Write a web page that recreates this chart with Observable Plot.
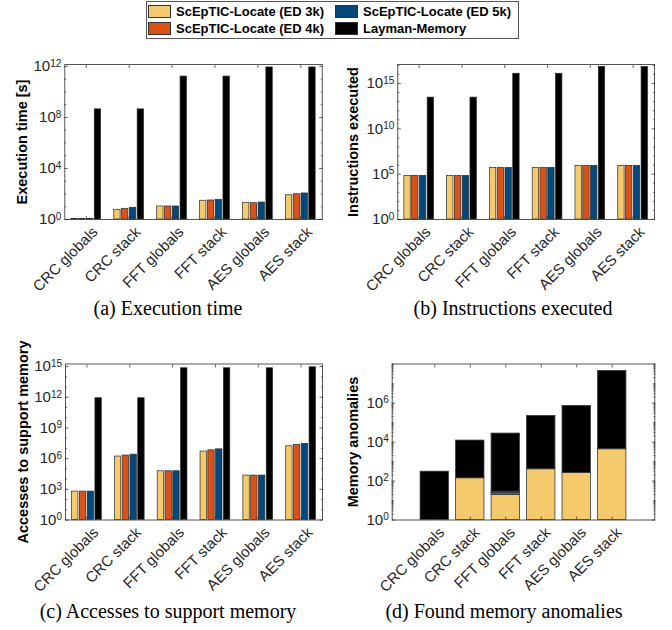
<!DOCTYPE html>
<html><head><meta charset="utf-8">
<script src="https://cdn.jsdelivr.net/npm/d3@7"></script>
<script src="https://cdn.jsdelivr.net/npm/@observablehq/plot@0.6"></script>
<style>
body{margin:0;background:#fff;}
#root{position:relative;width:672px;height:630px;overflow:hidden;font-family:"Liberation Sans",Arial,sans-serif;background:#fff;}
.panel{position:absolute;}
.cap{position:absolute;font-family:"Liberation Serif","Times New Roman",serif;font-size:20px;line-height:20px;color:#000;white-space:nowrap;transform:translateX(-50%);}
#legend{position:absolute;left:146px;top:1px;width:373px;height:38px;border:1px solid #555;box-sizing:border-box;background:#fff;}
.item{position:absolute;display:flex;align-items:center;height:14px;font-weight:bold;font-size:13px;color:#000;white-space:nowrap;}
.sw{width:23px;height:13px;border:1px solid #333;box-sizing:border-box;margin-right:5px;}
</style></head>
<body><div id="root"><div id="legend"></div></div>
<script>
// ---------- data ----------
const categories = ["CRC globals", "CRC stack", "FFT globals", "FFT stack", "AES globals", "AES stack"];
const seriesNames = ["ScEpTIC-Locate (ED 3k)", "ScEpTIC-Locate (ED 4k)", "ScEpTIC-Locate (ED 5k)", "Layman-Memory"];
const seriesColors = ["#F5CA6D", "#D95319", "#05497C", "#000000"];

// (a) Execution time [s]
const execED3k = [1.1, 5.8, 10.5, 29.5, 20.4, 79];
const execED4k = [1.1, 6.9, 10.5, 31, 19, 95];
const execED5k = [1.1, 8.3, 10.5, 35, 21.4, 110];
const execLayman = [4.3e8, 4.3e8, 1.6e11, 1.6e11, 8.3e11, 8.3e11];

// (b) Instructions executed
const instrED3k = [6.5e4, 6.5e4, 4.9e5, 4.9e5, 8.1e5, 8.1e5];
const instrED4k = [6.5e4, 6.5e4, 4.9e5, 4.9e5, 8.1e5, 8.1e5];
const instrED5k = [6.5e4, 6.5e4, 4.9e5, 4.9e5, 8.1e5, 8.1e5];
const instrLayman = [2.8e13, 2.8e13, 1.2e16, 1.2e16, 6.8e16, 6.8e16];

// (c) Accesses to support memory
const accED3k = [600, 1.6e6, 5.8e4, 4.9e6, 2.2e4, 1.6e7];
const accED4k = [600, 2.0e6, 5.8e4, 6.5e6, 2.2e4, 2.2e7];
const accED5k = [600, 2.45e6, 5.8e4, 8.1e6, 2.2e4, 2.75e7];
const accLayman = [8e11, 8e11, 6.8e14, 6.8e14, 6.8e14, 8.5e14];

// (d) Found memory anomalies (stacked)
const anomED3k = [0, 138, 19.4, 400, 260, 4250];
const anomED4k = [0, 0, 4, 0, 0, 0];
const anomED5k = [0, 0, 5, 0, 0, 0];
const anomLayman = [300, 11700, 27000, 218000, 710000, 44000000];

// tick labels
const ticksA = [1, 1e4, 1e8, 1e12];
const ticksB = [1, 1e5, 1e10, 1e15];
const ticksC = [1, 1e3, 1e6, 1e9, 1e12, 1e15];
const ticksD = [1, 1e2, 1e4, 1e6];
const xTicks = [1, 2, 3, 4, 5, 6];

// ---------- helpers ----------
const fmtPow = d => "10^" + Math.round(Math.log10(d));
const decades = (hi) => d3.range(0, Math.floor(hi) + 1).map(k => Math.pow(10, k));
const tickColor = "#262626";

function supscript(svg) {
  svg.querySelectorAll('g[aria-label="y-axis tick label"] text').forEach(t => {
    const s = t.textContent;
    if (!s.includes("^")) return;
    const [b, e] = s.split("^");
    t.textContent = b;
    const ts = document.createElementNS("http://www.w3.org/2000/svg", "tspan");
    ts.setAttribute("dy", "-4.5px");
    ts.setAttribute("font-size", "10px");
    ts.textContent = e;
    t.appendChild(ts);
  });
}

function axesMarks({major, minor, label, labelDx, xdx}) {
  return [
    Plot.frame({stroke: "#444", strokeWidth: 0.9}),
    Plot.axisY(major, {anchor: "left", tickSize: 0, tickPadding: 3.5, tickFormat: fmtPow, label: null, fill: tickColor}),
    Plot.axisY(major, {anchor: "left", tickSize: 3.5, dx: 3.5, fill: "none", label: null, stroke: tickColor, strokeWidth: 0.7}),
    Plot.axisY(major, {anchor: "right", tickSize: 3.5, dx: -3.5, fill: "none", label: null, stroke: tickColor, strokeWidth: 0.7}),
    Plot.axisY(minor, {anchor: "left", tickSize: 2, dx: 2, fill: "none", label: null, stroke: tickColor, strokeWidth: 0.6}),
    Plot.axisY(minor, {anchor: "right", tickSize: 2, dx: -2, fill: "none", label: null, stroke: tickColor, strokeWidth: 0.6}),
    Plot.axisX(xTicks, {anchor: "bottom", tickSize: 0, tickPadding: 10, dx: xdx, tickRotate: -45, tickFormat: i => categories[i - 1], label: null, fill: tickColor}),
    Plot.axisX(xTicks, {anchor: "bottom", tickSize: 3, dy: -3, fill: "none", label: null, stroke: tickColor, strokeWidth: 0.7}),
    Plot.axisX(xTicks, {anchor: "top", tickSize: 3, dy: 3, fill: "none", label: null, stroke: tickColor, strokeWidth: 0.7}),
    Plot.text([label], {frameAnchor: "left", text: d => d, rotate: -90, textAnchor: "middle", dx: labelDx, fontWeight: "bold", fontSize: 14.5, fill: "#000"})
  ];
}

const baseStyle = {fontFamily: "Liberation Sans, Arial, Helvetica, sans-serif", fontSize: "15px", color: tickColor, background: "transparent", overflow: "visible"};

function grouped({series, yDomain, major, label, labelDx, m}) {
  const rows = [];
  series.forEach((arr, si) => arr.forEach((v, gi) => rows.push({cat: categories[gi], series: seriesNames[si], gi: gi + 1, si, v})));
  const groupWidth = Math.min(0.8, 4 / 5.5), step = groupWidth / 4, bw = step * 0.82;
  const hi = Math.log10(yDomain[1]);
  const minor = decades(hi).filter(d => !major.includes(d));
  const svg = Plot.plot({
    width: 336, height: 260,
    marginLeft: m[0], marginRight: m[1], marginTop: m[2], marginBottom: m[3],
    x: {type: "linear", domain: [0.5, 6.5]},
    y: {type: "log", domain: yDomain},
    color: {domain: seriesNames, range: seriesColors},
    style: baseStyle,
    marks: [
      Plot.rect(rows, {
        x1: d => d.gi + (d.si - 1.5) * step - bw / 2,
        x2: d => d.gi + (d.si - 1.5) * step + bw / 2,
        y1: yDomain[0], y2: "v", fill: "series", stroke: "#2b2b2b", strokeWidth: 0.7
      }),
      ...axesMarks({major, minor, label, labelDx, xdx: 9})
    ]
  });
  supscript(svg);
  return svg;
}

function stacked({series, yDomain, major, label, labelDx, m}) {
  const rows = [];
  categories.forEach((c, gi) => {
    const vals = series.map(arr => arr[gi]);
    const cum = d3.cumsum(vals);
    vals.forEach((v, si) => {
      if (!v) return;
      rows.push({cat: c, gi: gi + 1, series: seriesNames[si], lo: Math.max(si ? cum[si - 1] : 0, yDomain[0]), hi: cum[si]});
    });
  });
  const bw = 0.8;
  const minor = [];
  for (let k = 0; k < 8; k++) for (let j = 2; j <= 9; j++) minor.push(j * Math.pow(10, k));
  decades(Math.log10(yDomain[1])).filter(d => !major.includes(d)).forEach(d => minor.push(d));
  const svg = Plot.plot({
    width: 336, height: 260,
    marginLeft: m[0], marginRight: m[1], marginTop: m[2], marginBottom: m[3],
    x: {type: "linear", domain: [-0.2, 7.2]},
    y: {type: "log", domain: yDomain},
    color: {domain: seriesNames, range: seriesColors},
    style: baseStyle,
    marks: [
      Plot.rect(rows, {
        x1: d => d.gi - bw / 2, x2: d => d.gi + bw / 2,
        y1: "lo", y2: "hi", fill: "series", stroke: "#3a3a3a", strokeWidth: 0.8
      }),
      ...axesMarks({major, minor, label, labelDx, xdx: 7})
    ]
  });
  supscript(svg);
  return svg;
}

const root = document.getElementById("root");
function place(el, left, top) {
  el.classList.add("panel");
  el.style.left = left + "px";
  el.style.top = top + "px";
  root.appendChild(el);
}
function caption(text, cx, top) {
  const d = document.createElement("div");
  d.className = "cap";
  d.textContent = text;
  d.style.left = cx + "px";
  d.style.top = top + "px";
  root.appendChild(d);
}

place(grouped({series: [execED3k, execED4k, execED5k, execLayman], yDomain: [1, Math.pow(10, 12.15)], major: ticksA,
  label: "Execution time [s]", labelDx: -42.6, m: [64.3, 14.3, 24, 81]}), 0, 40);
place(grouped({series: [instrED3k, instrED4k, instrED5k, instrLayman], yDomain: [1, Math.pow(10, 17.1)], major: ticksB,
  label: "Instructions executed", labelDx: -44, m: [61.3, 18, 24, 81]}), 336, 40);
place(grouped({series: [accED3k, accED4k, accED5k, accLayman], yDomain: [1, Math.pow(10, 15.25)], major: ticksC,
  label: "Accesses to support memory", labelDx: -42, m: [65, 14, 23.5, 80.5]}), 0, 340);
place(stacked({series: [anomED3k, anomED4k, anomED5k, anomLayman], yDomain: [1, 1e8], major: ticksD,
  label: "Memory anomalies", labelDx: -38.4, m: [55.7, 17.7, 23.5, 80.5]}), 336, 340);

caption("(a) Execution time", 168, 298);
caption("(b) Instructions executed", 513, 298);
caption("(c) Accesses to support memory", 168, 601);
caption("(d) Found memory anomalies", 504, 601);

// legend
const legendPos = [[148, 4], [148, 21], [335, 4], [335, 21]];
seriesNames.forEach((name, i) => {
  const it = document.createElement("div");
  it.className = "item";
  it.style.left = legendPos[i][0] + "px";
  it.style.top = legendPos[i][1] + "px";
  const sw = document.createElement("div");
  sw.className = "sw";
  sw.style.background = seriesColors[i];
  const tx = document.createElement("span");
  tx.textContent = name;
  it.appendChild(sw); it.appendChild(tx);
  root.appendChild(it);
});
</script>
</body></html>
